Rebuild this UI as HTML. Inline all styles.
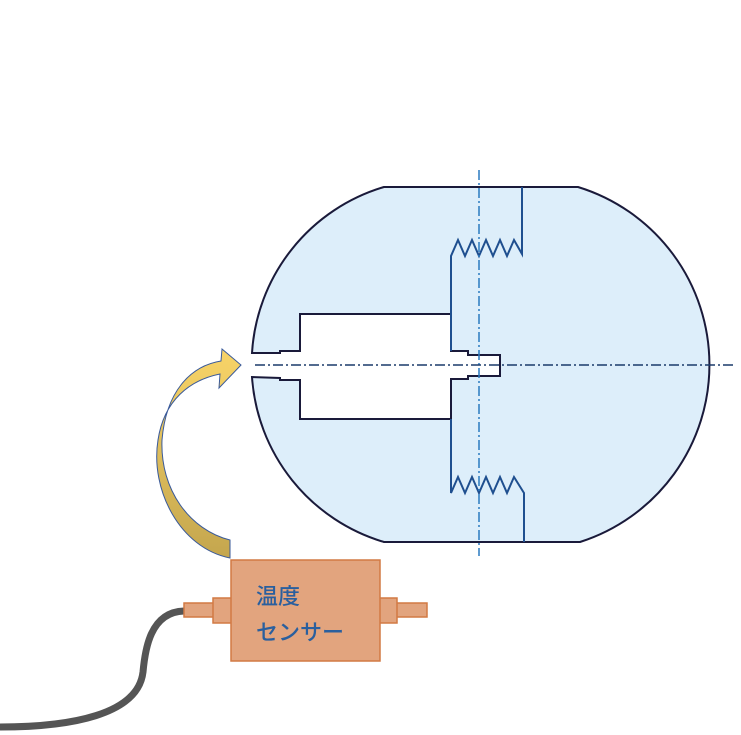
<!DOCTYPE html>
<html><head><meta charset="utf-8"><style>
html,body{margin:0;padding:0;background:#fff;width:741px;height:735px;overflow:hidden}
</style></head><body>
<svg width="741" height="735" viewBox="0 0 741 735" xmlns="http://www.w3.org/2000/svg">
<!-- body -->
<path d="M384,187 L578,187 A186,186 0 0 1 580,542 L384,542 A185,185 0 0 1 252,377 L280,378 L280,380 L300,380 L300,419 L451,419 L451,379 L468,379 L468,376 L500,376 L500,355 L468,355 L468,351 L451,351 L451,314 L300,314 L300,351 L280,351 L280,353 L252,353 A185,185 0 0 1 384,187 Z" fill="#ddeefa" stroke="#1a1a3a" stroke-width="2"/>
<!-- threads -->
<polyline points="451,351 451,256 458,240 465,256 472,240 479,256 486,240 493,256 500,240 507,256 514,240 522,254 522,187" fill="none" stroke="#1f4f8f" stroke-width="2"/>
<polyline points="451,419 451,493 458,477 465,493 472,477 479,493 486,477 493,493 500,477 507,493 514,477 524,493 524,542" fill="none" stroke="#1f4f8f" stroke-width="2"/>
<!-- centerlines -->
<line x1="479" y1="170" x2="479" y2="556" stroke="#2a7ac0" stroke-width="1.5" stroke-dasharray="10,3,2,3"/>
<line x1="255" y1="365" x2="736" y2="365" stroke="#1a3a6a" stroke-width="1.5" stroke-dasharray="10,3,2,3"/>
<!-- arrow -->
<defs><linearGradient id="g" x1="0" y1="1" x2="0" y2="0"><stop offset="0" stop-color="#c4a64e"/><stop offset="1" stop-color="#f8d468"/></linearGradient></defs>
<path d="M230,558 C180,548 150,490 158,440 C164,400 190,380 220,374 L219,388 L241,365 L222,349 L221,361 C190,366 166,392 162,440 C160,490 190,530 230,540 Z" fill="url(#g)" stroke="#3a5a9a" stroke-width="1"/>
<!-- cable -->
<path d="M184,611 C150,612 145,650 143,672 C138,715 70,727 0,727" fill="none" stroke="#555" stroke-width="7"/>
<!-- sensor -->
<g fill="#e2a47e" stroke="#d27a44" stroke-width="1.5">
<rect x="184" y="603" width="31" height="14"/>
<rect x="213" y="598" width="20" height="25"/>
<rect x="395" y="603" width="32" height="14"/>
<rect x="378" y="598" width="19" height="25"/>
<rect x="231" y="560" width="149" height="101"/>
</g>
<g font-family="'Liberation Sans','Noto Sans CJK JP',sans-serif" font-size="22" fill="#2a5f9e" font-weight="500">
<text x="256" y="604">温度</text>
<text x="256" y="640">センサー</text>
</g>
</svg>
</body></html>
